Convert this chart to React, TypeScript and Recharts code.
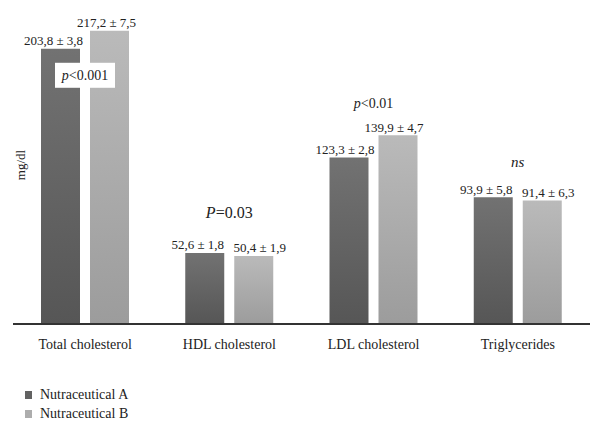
import { BarChart, Bar, XAxis, YAxis, LabelList } from "recharts";

const categories = ["Total cholesterol", "HDL cholesterol", "LDL cholesterol", "Triglycerides"];
const seriesNames = ["Nutraceutical A", "Nutraceutical B"];
const meanA = [203.8, 52.6, 123.3, 93.9];
const sdA = [3.8, 1.8, 2.8, 5.8];
const meanB = [217.2, 50.4, 139.9, 91.4];
const sdB = [7.5, 1.9, 4.7, 6.3];
// significance per category: italic part, plain part
const sigItalic = ["p", "P", "p", "ns"];
const sigRest = ["<0.001", "=0.03", "<0.01", ""];

const data = categories.map((name, i) => ({
  name,
  a: meanA[i],
  b: meanB[i],
}));

const FONT = "'Liberation Serif', 'DejaVu Serif', serif";
const fmt = (v: number) => v.toFixed(1).replace(".", ",");

// horizontal nudges of the value labels, as in the original
const dxA = [-7, -7, -4, -7];
const dxB = [-3, 6, -4, 6];

function ValueLabel(sd: number[], dx: number[]) {
  return (props: any) => {
    const { x, y, width, index, value } = props;
    return (
      <text
        x={x + width / 2 + dx[index]}
        y={y - 8}
        textAnchor="middle"
        dominantBaseline="central"
        style={{ fontFamily: FONT, fontSize: 13 }}
        fill="#222"
      >
        {fmt(value)} ± {fmt(sd[index])}
      </text>
    );
  };
}

// offsets of the p-value text from the top of the B bar
const sigDy = [44, -44, -32, -39];
const sigSize = [14, 16, 14, 15];

function SigLabel(props: any) {
  const { x, y, index } = props;
  const cx = x - 5;
  const cy = y + sigDy[index];
  const st = { fontFamily: FONT, fontSize: sigSize[index] };
  return (
    <g>
      {index === 0 && <rect x={cx - 30} y={cy - 12} width={60} height={25} fill="#fff" />}
      <text x={cx} y={cy} textAnchor="middle" dominantBaseline="central" style={st} fill="#222">
        <tspan style={{ ...st, fontStyle: "italic" }}>{sigItalic[index]}</tspan>
        <tspan style={st}>{sigRest[index]}</tspan>
      </text>
    </g>
  );
}

const colors = ["url(#gradA)", "url(#gradB)"];
const swatch = ["#626262", "#adadad"];

export default function App() {
  return (
    <div style={{ position: "absolute", left: 0, top: 0, width: 606, height: 432, background: "#fff" }}>
      <BarChart
        width={606}
        height={432}
        data={data}
        margin={{ top: 27, right: 16, left: 0, bottom: 0 }}
        barSize={39}
        barGap={10}
      >
        <defs>
          <linearGradient id="gradA" x1="0" y1="0" x2="0" y2="1">
            <stop offset="0%" stopColor="#727272" />
            <stop offset="100%" stopColor="#565656" />
          </linearGradient>
          <linearGradient id="gradB" x1="0" y1="0" x2="0" y2="1">
            <stop offset="0%" stopColor="#bababa" />
            <stop offset="100%" stopColor="#9c9c9c" />
          </linearGradient>
        </defs>
        <XAxis
          dataKey="name"
          height={108}
          tickLine={false}
          axisLine={{ stroke: "#333", strokeWidth: 1.8 }}
          tickMargin={9}
          tick={{ fontFamily: FONT, fontSize: 14, fill: "#222" }}
        />
        <YAxis
          domain={[0, 220]}
          width={13}
          tick={false}
          tickLine={false}
          axisLine={false}
          label={{
            content: () => (
              <text
                x={20}
                y={165}
                transform="rotate(-90 20 165)"
                textAnchor="middle"
                dominantBaseline="central"
                style={{ fontFamily: FONT, fontSize: 13 }}
                fill="#222"
              >
                mg/dl
              </text>
            ),
          }}
        />
        <Bar dataKey="a" name={seriesNames[0]} fill={colors[0]} isAnimationActive={false}>
          <LabelList dataKey="a" content={ValueLabel(sdA, dxA)} />
        </Bar>
        <Bar dataKey="b" name={seriesNames[1]} fill={colors[1]} isAnimationActive={false}>
          <LabelList dataKey="b" content={ValueLabel(sdB, dxB)} />
          <LabelList dataKey="b" content={SigLabel} />
        </Bar>
      </BarChart>
      <div
        style={{
          position: "absolute",
          left: 25,
          top: 385,
          fontFamily: FONT,
          fontSize: 14,
          color: "#222",
          lineHeight: "19px",
        }}
      >
        {seriesNames.map((n, i) => (
          <div key={n} style={{ display: "flex", alignItems: "center" }}>
            <span style={{ width: 7, height: 8, background: swatch[i], marginRight: 8, display: "inline-block" }} />
            {n}
          </div>
        ))}
      </div>
    </div>
  );
}
